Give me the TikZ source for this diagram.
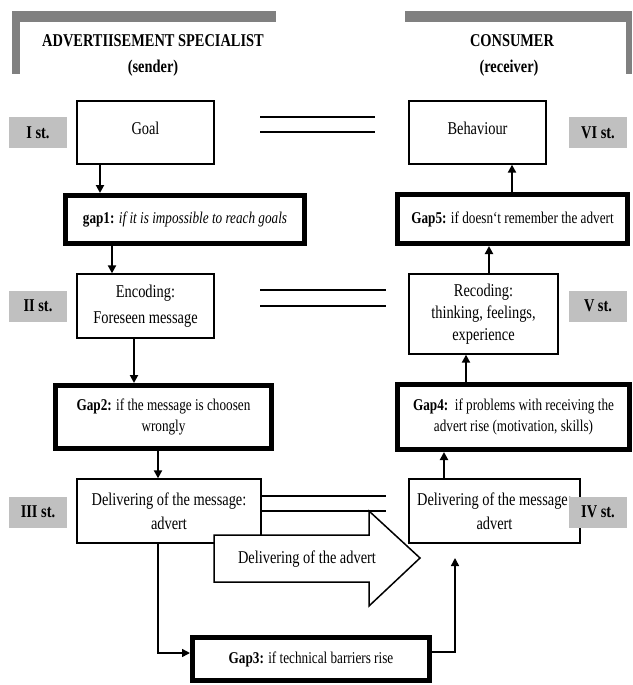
\documentclass[tikz,border=0pt]{standalone}
\usepackage{fontspec}
\setmainfont{Liberation Serif}[FakeStretch=0.8]
\usetikzlibrary{arrows.meta}
\definecolor{stagegray}{RGB}{192,192,192}
\definecolor{hdrgray}{RGB}{128,128,128}
\begin{document}
\begin{tikzpicture}[x=1pt,y=-1pt,
  box/.style={draw,line width=1.3pt,fill=white,inner sep=0pt,align=center,font=\fontsize{18}{24}\selectfont},
  gapbox/.style={draw,line width=5pt,fill=white,inner sep=0pt,align=center,font=\fontsize{16.5}{21}\selectfont},
  stage/.style={fill=stagegray,inner sep=0pt,minimum width=58pt,minimum height=31pt,font=\bfseries\fontsize{18}{20}\selectfont},
  title/.style={inner sep=0pt,font=\bfseries\fontsize{18}{20}\selectfont},
  arr/.style={line width=2pt,-{Triangle[length=8pt,width=8pt]}},
  conn/.style={line width=1.5pt},
  dbl/.style={line width=1.6pt},
  bigarrow/.style={line width=1.5pt,fill=white,line join=miter}
]
\useasboundingbox (0,0) rectangle (632,685);
% headers
\fill[hdrgray] (12,11) rectangle (276,22);
\fill[hdrgray] (12,11) rectangle (20,74);
\fill[hdrgray] (405,11) rectangle (632,22);
\fill[hdrgray] (626,11) rectangle (632,74);
\node[title] (sender) at (153,41) {ADVERTIISEMENT SPECIALIST};
\node[title] (senderb) at (153,68) {(sender)};
\node[title] (cons) at (512,41) {CONSUMER};
\node[title] (consb) at (509,68) {(receiver)};
% row 1
\node[box,minimum width=137pt,minimum height=63pt,text depth=9pt] (goal) at (145.5,132.5) {Goal};
\node[box,minimum width=137pt,minimum height=63pt,text depth=9pt] (behav) at (477.5,132.5) {Behaviour};
\node[stage] (s1) at (38,132.5) {I st.};
\node[stage] (s6) at (598,132.5) {VI st.};
\draw[dbl] (260,117) -- (375,117);
\draw[dbl] (260,132) -- (375,132);
% gaps 1 and 5
\node[gapbox,minimum width=239pt,minimum height=48pt] (gap1) at (185,219.5) {\textbf{gap1:} \textit{if it is impossible to reach goals}};
\node[gapbox,minimum width=230pt,minimum height=49pt] (gap5) at (512.5,219) {\textbf{Gap5:} if doesn‘t remember the advert};
% row 2
\node[box,minimum width=137pt,minimum height=64pt,font=\fontsize{18}{26}\selectfont] (enc) at (145.5,306) {Encoding:\\Foreseen message};
\node[box,minimum width=149pt,minimum height=80pt,font=\fontsize{18}{22}\selectfont] (rec) at (483.5,314) {Recoding:\\thinking, feelings,\\experience};
\node[stage] (s2) at (38,306) {II st.};
\node[stage] (s5) at (598,306) {V st.};
\draw[dbl] (260,290) -- (386,290);
\draw[dbl] (260,306) -- (386,306);
% gaps 2 and 4
\node[gapbox,minimum width=216pt,minimum height=63pt] (gap2) at (163.5,417) {\textbf{Gap2:} if the message is choosen\\wrongly};
\node[gapbox,minimum width=232pt,minimum height=65pt] (gap4) at (513.5,417) {\textbf{Gap4:}\ \ if problems with receiving the\\advert rise (motivation, skills)};
% row 3
\node[box,minimum width=184pt,minimum height=64pt] (dl) at (169,511) {Delivering of the message:\\advert};
\node[box,minimum width=171pt,minimum height=64pt] (dr) at (494.5,511) {Delivering of the message:\\advert};
\node[stage] (s3) at (38,512) {III st.};
\node[stage] (s4) at (598,512) {IV st.};
\draw[dbl] (dl.east |- 0,496) -- (386,496);
\draw[dbl] (dl.east |- 0,511) -- (386,511);
% big arrow
\draw[bigarrow] (214,535) -- (369,535) -- (369,511) -- (420,558) -- (369,606) -- (369,582) -- (214,582) -- cycle;
\node[inner sep=0pt,font=\fontsize{18}{20}\selectfont] (advert) at (307,559) {Delivering of the advert};
% gap 3
\node[gapbox,minimum width=237pt,minimum height=43pt] (gap3) at (311,659) {\textbf{Gap3:} if technical barriers rise};
\coordinate (g3end) at (455,558);
% connectors
\draw[arr] (100,0 |- goal.south) -- (100,0 |- gap1.north);
\draw[arr] (112,0 |- gap1.south) -- (112,0 |- enc.north);
\draw[arr] (134,0 |- enc.south) -- (134,0 |- gap2.north);
\draw[arr] (158,0 |- gap2.south) -- (158,0 |- dl.north);
\draw[conn,-{Triangle[length=8pt,width=8pt]}] (158,0 |- dl.south) -- (158,653) -- (gap3.west |- 0,653);
\draw[conn,-{Triangle[length=8pt,width=8pt]}] (gap3.east |- 0,652) -- (455,652) -- (g3end);
\draw[arr] (444,0 |- dr.north) -- (444,0 |- gap4.south);
\draw[arr] (466,0 |- gap4.north) -- (466,0 |- rec.south);
\draw[arr] (489,0 |- rec.north) -- (489,0 |- gap5.south);
\draw[arr] (512,0 |- gap5.north) -- (512,0 |- behav.south);
\end{tikzpicture}
\end{document}
